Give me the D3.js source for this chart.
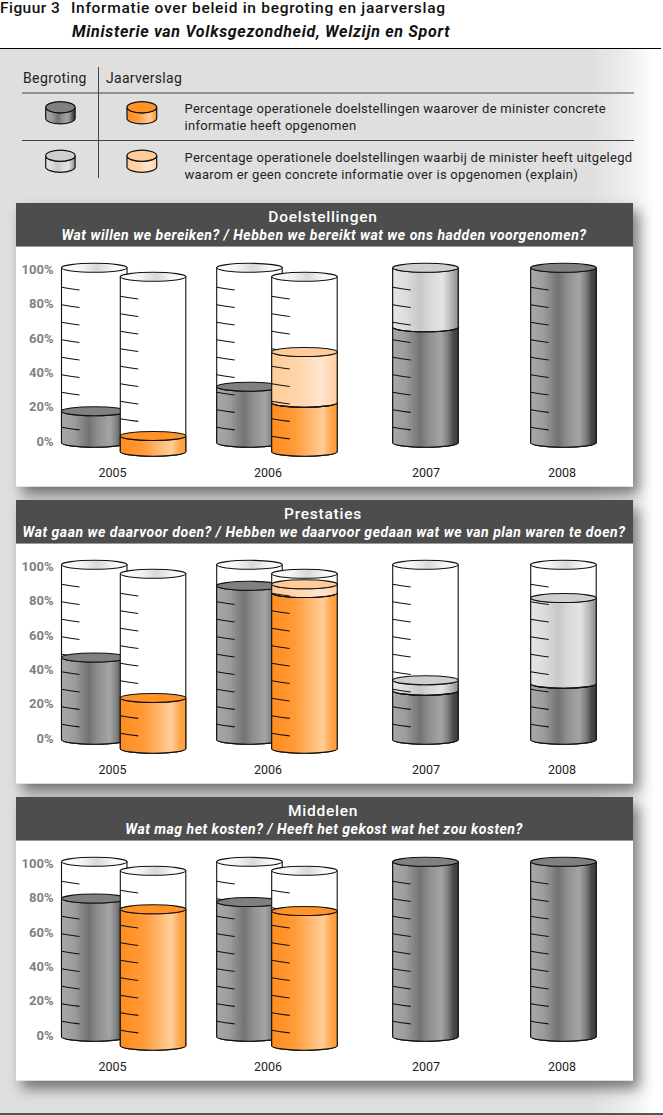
<!DOCTYPE html>
<html><head><meta charset="utf-8">
<style>html,body{margin:0;padding:0;background:#fff}svg{display:block}text{font-family:Roboto,"Liberation Sans",Arial,sans-serif}</style>
<script src="https://cdn.jsdelivr.net/npm/d3@7"></script></head>
<body><script>
// ---------- data (percentages) ----------
const years = ["2005","2006","2007","2008"];
const axisTicks = [0,20,40,60,80,100];
const gradeTicks = [10,20,30,40,50,60,70,80,90];
const panelTitles = ["Doelstellingen","Prestaties","Middelen"];
const panelSubtitles = [
 "Wat willen we bereiken? / Hebben we bereikt wat we ons hadden voorgenomen?",
 "Wat gaan we daarvoor doen? / Hebben we daarvoor gedaan wat we van plan waren te doen?",
 "Wat mag het kosten? / Heeft het gekost wat het zou kosten?"];
const doelBegrotingConcreet=[18,32,66,100], doelBegrotingExplain=[0,0,34,0];
const doelJaarConcreet=[9,28,null,null],    doelJaarExplain=[0,29,null,null];
const prestBegrotingConcreet=[47,88,28,32], prestBegrotingExplain=[0,0,6,49];
const prestJaarConcreet=[29,89,null,null],  prestJaarExplain=[0,5,null,null];
const middBegrotingConcreet=[79,77,100,100],middBegrotingExplain=[0,0,0,0];
const middJaarConcreet=[78,77,null,null],   middJaarExplain=[0,0,null,null];
const legendHeads=["Begroting","Jaarverslag"];
const legendRow1=["Percentage operationele doelstellingen waarover de minister concrete","informatie heeft opgenomen"];
const legendRow2=["Percentage operationele doelstellingen waarbij de minister heeft uitgelegd","waarom er geen concrete informatie over is opgenomen (explain)"];

const panels=[
 {bc:doelBegrotingConcreet,be:doelBegrotingExplain,jc:doelJaarConcreet,je:doelJaarExplain},
 {bc:prestBegrotingConcreet,be:prestBegrotingExplain,jc:prestJaarConcreet,je:prestJaarExplain},
 {bc:middBegrotingConcreet,be:middBegrotingExplain,jc:middJaarConcreet,je:middJaarExplain}];

// ---------- layout ----------
const W=663,H=1115;
const svg=d3.select("body").append("svg").attr("width",W).attr("height",H);
const defs=svg.append("defs");
function grad(id,stops){
  const g=defs.append("linearGradient").attr("id",id);
  stops.forEach(s=>g.append("stop").attr("offset",s[0]).attr("stop-color",s[1]));
}
grad("bg",[[0,"#dfdfdf"],[0.9,"#dfdfdf"],[0.93,"#e6e6e6"],[0.965,"#f0f0f0"],[1,"#fff"]]);
grad("gDark",[[0,"#a8a8a8"],[0.2,"#9c9c9c"],[0.42,"#727272"],[0.56,"#909090"],[0.74,"#a4a4a4"],[0.84,"#808080"],[0.93,"#484848"],[1,"#3c3c3c"]]);
grad("gLight",[[0,"#e6e6e6"],[0.2,"#dcdcdc"],[0.42,"#c8c8c8"],[0.56,"#d8d8d8"],[0.76,"#e4e4e4"],[0.88,"#bdbdbd"],[1,"#8c8c8c"]]);
grad("gOrange",[[0,"#ff8c1f"],[0.35,"#ff9a38"],[0.78,"#ffcd99"],[0.9,"#ffa94f"],[1,"#ff9a33"]]);
grad("gOrangeL",[[0,"#ffcc99"],[0.4,"#ffd5aa"],[0.75,"#ffe6cf"],[1,"#ffd0a2"]]);
grad("gLid",[[0,"#fff"],[0.3,"#f4f4f4"],[0.55,"#d8d8d8"],[0.8,"#f8f8f8"],[1,"#fff"]]);
const sh=defs.append("filter").attr("id","shadow").attr("x","-10%").attr("y","-10%").attr("width","125%").attr("height","125%");
sh.append("feDropShadow").attr("dx",6).attr("dy",8).attr("stdDeviation",7).attr("flood-color","#000").attr("flood-opacity",0.5);

svg.append("rect").attr("x",0).attr("y",49).attr("width",655).attr("height",1064).attr("fill","url(#bg)");
svg.append("rect").attr("x",0).attr("y",48).attr("width",661).attr("height",1).attr("fill","#000");
svg.append("rect").attr("x",0).attr("y",1113).attr("width",W).attr("height",2).attr("fill","#555");

function txt(sel,x,y,s,o={}){
  return sel.append("text").attr("x",x).attr("y",y).text(s)
   .attr("font-size",o.size||12).attr("font-weight",o.weight||400).attr("font-style",o.style||"normal")
   .attr("fill",o.fill||"#111").attr("text-anchor",o.anchor||"start")
   .attr("letter-spacing",o.ls||0);
}
const headFont='"Liberation Sans",Arial,sans-serif';
txt(svg,0,13,"Figuur 3",{size:15.5,weight:500,ls:0.45});
txt(svg,71,13,"Informatie over beleid in begroting en jaarverslag",{size:15.5,weight:500,ls:0.7});
txt(svg,72,37,"Ministerie van Volksgezondheid, Welzijn en Sport",{size:16,weight:700,style:"italic",ls:0.7});

// cylinder
const RY=4.5;
function cylinder(g,x,w,yScale,dy,segs,opt={}){
  const y=v=>yScale(v)+dy, rx=w/2, cx=x+w/2, ry=opt.ry||RY, sw=opt.sw||1.1;
  const top=opt.max||100;
  const lower=(yy)=>`M${x},${yy}A${rx},${ry} 0 0 0 ${x+w},${yy}`;
  if(!opt.noGlass){
    g.append("path").attr("d",`M${x},${y(top)}L${x},${y(0)}A${rx},${ry} 0 0 0 ${x+w},${y(0)}L${x+w},${y(top)}Z`)
      .attr("fill","#fff").attr("stroke","#111").attr("stroke-width",sw);
  }
  let acc=0; const stack=[];
  segs.forEach(s=>{ if(s.v>0){ stack.push({from:acc,to:acc+s.v,fill:s.fill,lid:s.lid}); acc+=s.v; }});
  stack.forEach(s=>{
    g.append("path").attr("d",`M${x},${y(s.to)}L${x},${y(s.from)}A${rx},${ry} 0 0 0 ${x+w},${y(s.from)}L${x+w},${y(s.to)}A${rx},${ry} 0 0 1 ${x},${y(s.to)}Z`)
      .attr("fill",`url(#${s.fill})`).attr("stroke","#111").attr("stroke-width",sw);
  });
  if(!opt.noTicks){
    g.selectAll(null).data(gradeTicks).join("path")
      .attr("d",v=>{const a=y(v)+2,e=a+2.7;return `M${x},${a}Q${x+9},${a+1.6} ${x+18},${e}`;})
      .attr("fill","none").attr("stroke","#111").attr("stroke-width",1.1);
  }
  // lids
  const last=stack[stack.length-1];
  if(acc<top){
    g.append("ellipse").attr("cx",cx).attr("cy",y(top)).attr("rx",rx).attr("ry",ry)
     .attr("fill","url(#gLid)").attr("stroke","#111").attr("stroke-width",sw);
  }
  if(last){
    g.append("ellipse").attr("cx",cx).attr("cy",y(last.to)).attr("rx",rx).attr("ry",ry)
     .attr("fill",last.lid).attr("stroke","#111").attr("stroke-width",sw);
  }
  stack.slice(0,-1).forEach(s=>{
    g.append("path").attr("d",lower(y(s.to))).attr("fill","none").attr("stroke","#111").attr("stroke-width",sw);
  });
}
const DARK={fill:"gDark",lid:"#808080"},LIGHT={fill:"gLight",lid:"#cfcfcf"},OR={fill:"gOrange",lid:"#ff9326"},ORL={fill:"gOrangeL",lid:"#ffcc99"};

// legend
const lg=svg.append("g");
txt(lg,23,83,legendHeads[0],{size:14,fill:"#222",ls:0.4});
txt(lg,106,83,legendHeads[1],{size:14,fill:"#222",ls:0.3});
[93,140.5].forEach(yy=>lg.append("rect").attr("x",22).attr("y",yy-0.5).attr("width",612).attr("height",1).attr("fill","#444"));
lg.append("rect").attr("x",98).attr("y",67).attr("width",1).attr("height",111).attr("fill","#444");
const legendY=d3.scaleLinear().domain([0,100]).range([11,0]);
[[45.7,107.3,DARK],[127,107.3,OR],[45.7,155.7,LIGHT],[127,155.7,ORL]].forEach(d=>{
  cylinder(lg,d[0],d[0]<100?29.4:29.7,legendY,d[1],[{v:100,...d[2]}],{noTicks:true,ry:5.6,noGlass:true,sw:1.2});
});
[[legendRow1,113],[legendRow2,162]].forEach(([rows,yy])=>rows.forEach((t,i)=>
  txt(lg,184.5,yy+i*17,t,{size:13,fill:"#222",ls:0.28})));

// panels
const PX=16,PW=617,PSTEP=297,PY0=203,HEAD=43,PH=283.5;
const colX=d3.scaleOrdinal().domain(years).range([61.5,216.7,392.7,530.7]);
const jaarX=d3.scaleOrdinal().domain(years).range([120.3,271.7,0,0]);
const labelX=d3.scaleOrdinal().domain(years).range([112.5,268,426,562]);
const CW=65.5;
const y0=d3.scaleLinear().domain([0,100]).range([442.7,267.8]);
const axisScale=d3.scaleLinear().domain([0,100]).range([441,269.5]);

panels.forEach((p,pi)=>{
  const dy=pi*PSTEP;
  const g=svg.append("g");
  g.append("rect").attr("x",PX).attr("y",PY0+dy).attr("width",PW).attr("height",PH)
    .attr("fill","#fff").attr("filter","url(#shadow)");
  g.append("rect").attr("x",PX).attr("y",PY0+dy).attr("width",PW).attr("height",HEAD).attr("fill","#4d4d4d");
  g.append("rect").attr("x",PX).attr("y",PY0+dy+HEAD).attr("width",PW).attr("height",1).attr("fill","#999");
  txt(g,323,PY0+dy+18.5,panelTitles[pi],{size:15.5,weight:500,fill:"#fff",anchor:"middle",ls:0.75});
  txt(g,324,PY0+dy+36.5,panelSubtitles[pi],{size:14,weight:700,style:"italic",fill:"#fff",anchor:"middle",ls:0.52});

  const ax=g.append("g").attr("transform",`translate(53.5,${dy})`)
    .call(d3.axisLeft(axisScale).tickValues(axisTicks).tickSize(0).tickPadding(0).tickFormat(d=>d+"%"));
  ax.select(".domain").remove();
  ax.selectAll("text").attr("font-size",13).attr("font-weight",700).attr("fill","#808080")
    .attr("font-family",headFont).attr("x",0);

  years.forEach((yr,i)=>{
    const cg=g.append("g");
    cylinder(cg,colX(yr),CW,y0,dy,[{v:p.bc[i],...DARK},{v:p.be[i],...LIGHT}]);
    if(p.jc[i]!==null){
      cylinder(cg,jaarX(yr),CW,y0,dy+9,[{v:p.jc[i],...OR},{v:p.je[i],...ORL}]);
    }
    txt(g,labelX(yr),PY0+dy+273.5,yr,{size:12.5,anchor:"middle",fill:"#222"});
  });
});
</script></body></html>
